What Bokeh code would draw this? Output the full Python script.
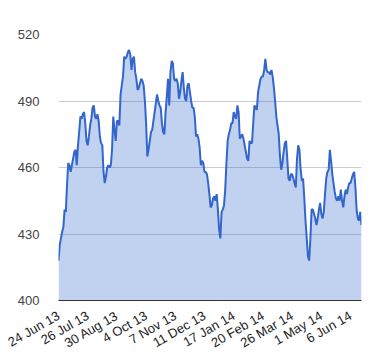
import math
from bokeh.plotting import figure
from bokeh.models import Range1d, FixedTicker, ColumnDataSource
from bokeh.embed import file_html
from bokeh.resources import INLINE

values = [
    418, 425, 428, 431, 433, 441, 440, 452, 462, 461,
    458, 461, 464, 467, 468, 461, 470, 476, 483, 482,
    484, 485, 480, 472, 470, 474, 479, 482, 487, 488,
    483, 482, 484, 481, 474, 471, 470, 458, 453, 456,
    460, 461, 460, 461, 468, 483, 477, 472, 481, 481,
    479, 493, 497, 501, 510, 509, 510, 512, 513, 511,
    504, 509, 510, 503, 500, 495, 496, 498, 500, 499,
    497, 490, 480, 465, 468, 472, 476, 477, 481, 485,
    489, 493, 490, 488, 487, 480, 476, 475, 485, 492,
    500, 488, 503, 508, 507, 500, 499, 500, 498, 491,
    494, 499, 503, 496, 491, 490, 497, 498, 494, 490,
    487, 487, 483, 474, 475, 473, 469, 461, 463, 462,
    458, 458, 457, 453, 448, 442, 443, 446, 447, 445,
    448, 441, 432, 428, 440, 441, 443, 450, 462, 472,
    475, 477, 480, 480, 485, 483, 482, 488, 485, 473,
    474, 475, 473, 470, 467, 464, 463, 472, 471, 471,
    480, 488, 487, 486, 494, 497, 500, 501, 501, 504,
    509, 504, 503, 503, 502, 504, 501, 496, 490, 483,
    479, 475, 465, 459, 462, 467, 471, 472, 464, 455,
    454, 457, 457, 455, 453, 451, 464, 470, 468, 459,
    454, 455, 446, 436, 428, 420, 418, 428, 441, 441,
    439, 437, 434, 437, 441, 444, 439, 437, 440, 448,
    455, 458, 459, 468, 463, 457, 453, 449, 446, 445,
    447, 445, 450, 445, 442, 447, 450, 448, 451, 453,
    453, 455, 457, 458, 451, 441, 437, 436, 440, 434,
]
day_index = list(range(len(values)))

tick_index = [0, 24, 48, 72, 96, 120, 144, 168, 192, 216, 240]
tick_labels = ["24 Jun 13", "26 Jul 13", "30 Aug 13", "4 Oct 13", "7 Nov 13",
               "11 Dec 13", "17 Jan 14", "20 Feb 14", "26 Mar 14", "1 May 14",
               "6 Jun 14"]
y_ticks = [400, 430, 460, 490, 520]

src = ColumnDataSource(dict(x=day_index, y=values))

p = figure(width=376, height=360, output_backend="svg", toolbar_location=None,
           x_range=Range1d(0, len(values) - 1), y_range=Range1d(400, 520),
           min_border_left=58, min_border_right=15, min_border_top=34,
           min_border_bottom=58)
p.outline_line_color = None
p.background_fill_color = "white"

p.varea(x="x", y1=400, y2="y", source=src, fill_color="#3366cc", fill_alpha=0.3)
p.line(x="x", y="y", source=src, line_color="#3366cc", line_width=2)

p.xgrid.visible = False
p.ygrid.grid_line_color = "#cccccc"
p.ygrid.grid_line_width = 1

p.yaxis.ticker = FixedTicker(ticks=y_ticks)
p.yaxis.axis_line_color = None
p.yaxis.major_tick_line_color = None
p.yaxis.minor_tick_line_color = None
p.yaxis.major_label_standoff = 13
p.yaxis.major_label_text_font = "Liberation Sans"
p.yaxis.major_label_text_font_size = "13px"
p.yaxis.major_label_text_color = "#444444"

p.xaxis.ticker = FixedTicker(ticks=tick_index)
p.xaxis.major_label_overrides = {t: l for t, l in zip(tick_index, tick_labels)}
p.xaxis.axis_line_color = "#333333"
p.xaxis.axis_line_width = 1
p.xaxis.major_tick_line_color = None
p.xaxis.minor_tick_line_color = None
p.xaxis.major_label_orientation = math.pi / 6
p.xaxis.major_label_standoff = 8
p.xaxis.major_label_text_font = "Liberation Sans"
p.xaxis.major_label_text_font_size = "13px"
p.xaxis.major_label_text_color = "#222222"

open("out.html", "w").write(file_html(p, INLINE))
